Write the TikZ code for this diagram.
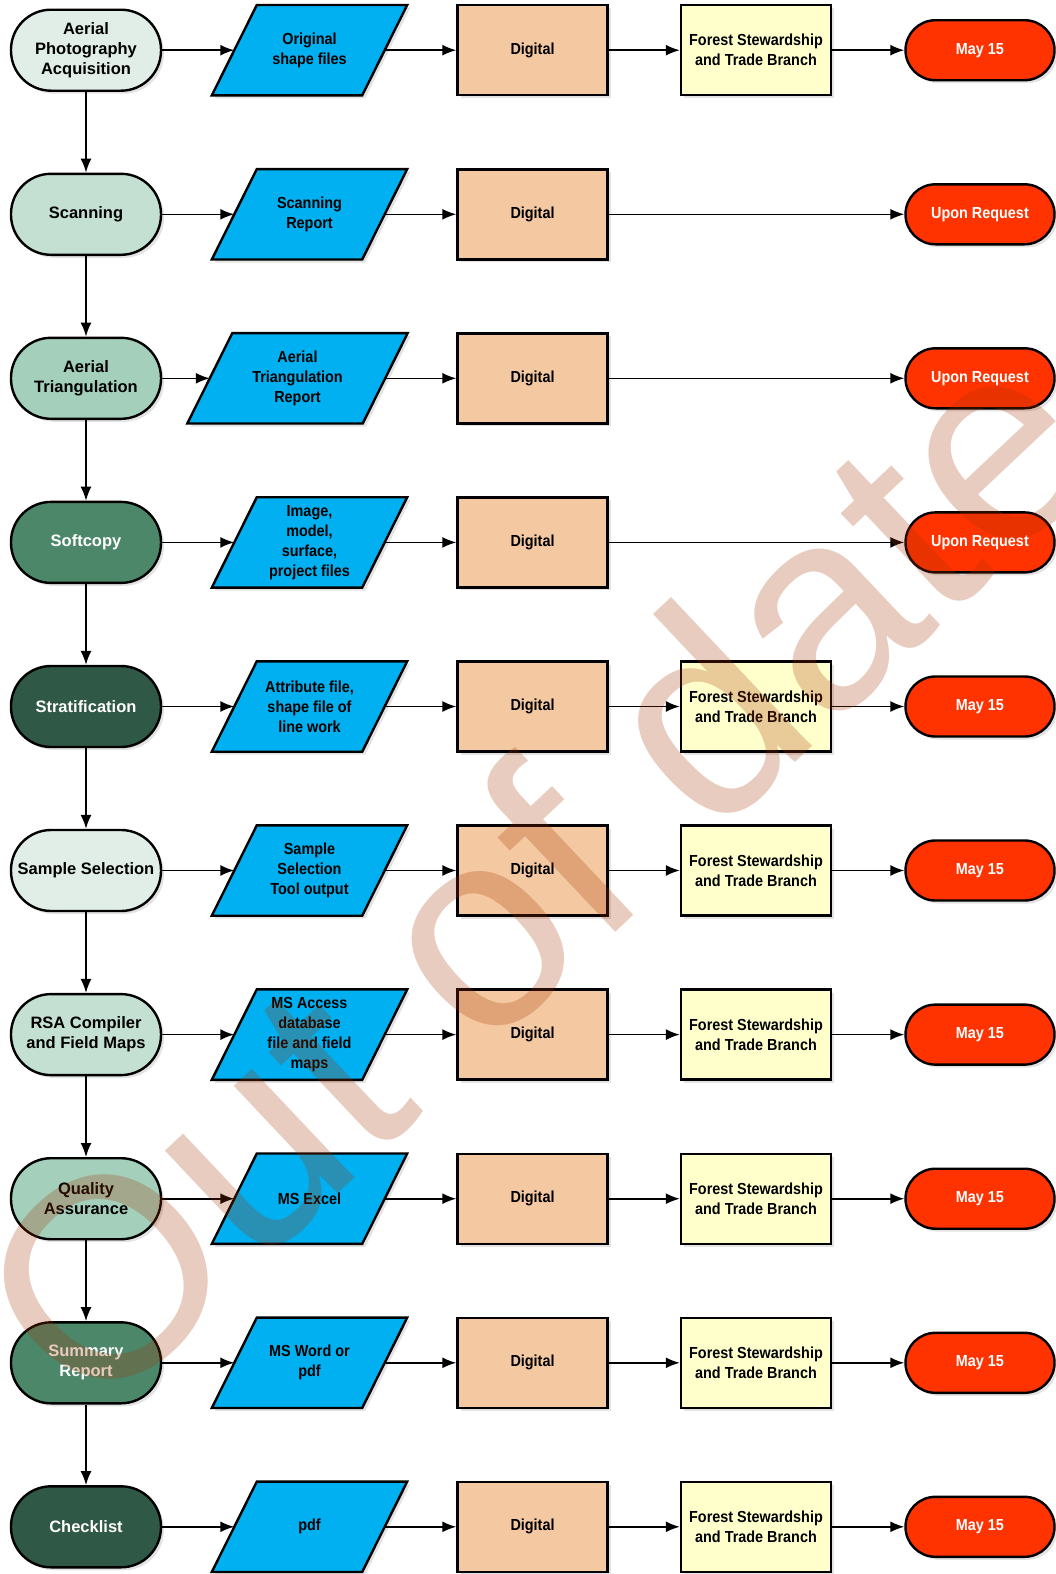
\documentclass[tikz,border=0pt]{standalone}
\usepackage{fontspec}
\setmainfont{Liberation Sans}
\newfontfamily\condfont{Liberation Sans}[FakeStretch=0.9]
\usetikzlibrary{shadows,arrows.meta,backgrounds}
\definecolor{gA}{RGB}{225,238,231}
\definecolor{gB}{RGB}{196,224,210}
\definecolor{gC}{RGB}{163,207,187}
\definecolor{gD}{RGB}{76,135,106}
\definecolor{gE}{RGB}{48,88,70}
\definecolor{cyanfill}{RGB}{0,176,240}
\definecolor{digfill}{RGB}{244,201,161}
\definecolor{forfill}{RGB}{255,255,204}
\definecolor{redfill}{RGB}{255,51,0}
\definecolor{wmcol}{RGB}{165,50,0}
\tikzset{
  shad/.style={drop shadow={shadow xshift=3pt, shadow yshift=-3pt, opacity=0.22}},
  base/.style={draw=black, line width=2.4pt, align=center, shad},
  term/.style={base, rectangle, rounded corners=40pt, minimum width=150pt,
    minimum height=81pt, inner sep=1pt,
    font=\fontsize{16.5}{20}\selectfont\bfseries},
  darkterm/.style={term, text=white},
  para/.style={rectangle, draw=none, align=center, minimum width=150pt,
    minimum height=90pt, inner sep=1pt,
    font=\condfont\fontsize{16}{20}\selectfont\bfseries},
  paraframe/.style={draw=black, line width=2.4pt, fill=cyanfill, shad},
  digi/.style={base, rectangle, minimum width=150pt, minimum height=90pt,
    fill=digfill, inner sep=1pt, font=\condfont\fontsize{16}{20}\selectfont\bfseries},
  branch/.style={base, rectangle, minimum width=150pt, minimum height=90pt,
    fill=forfill, inner sep=1pt, font=\condfont\fontsize{16}{20}\selectfont\bfseries},
  due/.style={base, rectangle, rounded corners=30pt, minimum width=149pt,
    minimum height=60pt, fill=redfill, text=white, inner sep=1pt,
    font=\condfont\fontsize{16}{20}\selectfont\bfseries},
  conn/.style={line width=1.6pt, -{Latex[length=14pt,width=11pt]}},
  wm/.style={rotate=43.3, text=wmcol, text opacity=0.25, inner sep=0pt,
    font=\fontsize{283}{283}\selectfont}
}
\begin{document}
\begin{tikzpicture}[x=1pt,y=-1pt]
\useasboundingbox (0,0) rectangle (1056,1574);
% row 1
\node[term, fill=gA] (t1) at (86,50.2) {Aerial\\Photography\\Acquisition};
\node[para] (p1) at (309.5,50.2) {Original\\shape files};
\node[digi] (d1) at (532.5,50.2) {Digital};
\node[branch] (f1) at (756,50.2) {Forest Stewardship\\and Trade Branch};
\node[due] (r1) at (980,50.2) {May 15};
% row 2
\node[term, fill=gB] (t2) at (86,214.3) {Scanning};
\node[para] (p2) at (309.5,214.3) {Scanning\\Report};
\node[digi] (d2) at (532.5,214.3) {Digital};
\node[due] (r2) at (980,214.3) {Upon Request};
% row 3
\node[term, fill=gC] (t3) at (86,378.3) {Aerial\\Triangulation};
\node[para, minimum width=175pt] (p3) at (297.5,378.3) {Aerial\\Triangulation\\Report};
\node[digi] (d3) at (532.5,378.3) {Digital};
\node[due] (r3) at (980,378.3) {Upon Request};
% row 4
\node[darkterm, fill=gD] (t4) at (86,542.4) {Softcopy};
\node[para] (p4) at (309.5,542.4) {Image,\\model,\\surface,\\project files};
\node[digi] (d4) at (532.5,542.4) {Digital};
\node[due] (r4) at (980,542.4) {Upon Request};
% row 5
\node[darkterm, fill=gE] (t5) at (86,706.5) {Stratification};
\node[para] (p5) at (309.5,706.5) {Attribute file,\\shape file of\\line work};
\node[digi] (d5) at (532.5,706.5) {Digital};
\node[branch] (f5) at (756,706.5) {Forest Stewardship\\and Trade Branch};
\node[due] (r5) at (980,706.5) {May 15};
% row 6
\node[term, fill=gA] (t6) at (86,870.5) {Sample Selection};
\node[para] (p6) at (309.5,870.5) {Sample\\Selection\\Tool output};
\node[digi] (d6) at (532.5,870.5) {Digital};
\node[branch] (f6) at (756,870.5) {Forest Stewardship\\and Trade Branch};
\node[due] (r6) at (980,870.5) {May 15};
% row 7
\node[term, fill=gB] (t7) at (86,1034.6) {RSA Compiler\\and Field Maps};
\node[para] (p7) at (309.5,1034.6) {MS Access\\database\\file and field\\maps};
\node[digi] (d7) at (532.5,1034.6) {Digital};
\node[branch] (f7) at (756,1034.6) {Forest Stewardship\\and Trade Branch};
\node[due] (r7) at (980,1034.6) {May 15};
% row 8
\node[term, fill=gC] (t8) at (86,1198.7) {Quality\\Assurance};
\node[para] (p8) at (309.5,1198.7) {MS Excel};
\node[digi] (d8) at (532.5,1198.7) {Digital};
\node[branch] (f8) at (756,1198.7) {Forest Stewardship\\and Trade Branch};
\node[due] (r8) at (980,1198.7) {May 15};
% row 9
\node[darkterm, fill=gD] (t9) at (86,1362.8) {Summary\\Report};
\node[para] (p9) at (309.5,1362.8) {MS Word or\\pdf};
\node[digi] (d9) at (532.5,1362.8) {Digital};
\node[branch] (f9) at (756,1362.8) {Forest Stewardship\\and Trade Branch};
\node[due] (r9) at (980,1362.8) {May 15};
% row 10
\node[darkterm, fill=gE] (t10) at (86,1526.8) {Checklist};
\node[para] (p10) at (309.5,1526.8) {pdf};
\node[digi] (d10) at (532.5,1526.8) {Digital};
\node[branch] (f10) at (756,1526.8) {Forest Stewardship\\and Trade Branch};
\node[due] (r10) at (980,1526.8) {May 15};
% parallelogram frames behind the data nodes
\begin{scope}[on background layer]
\foreach \n in {p1,p2,p3,p4,p5,p6,p7,p8,p9,p10}
  \draw[paraframe] ([xshift=-22.5pt]\n.south west) -- ([xshift=-22.5pt]\n.south east)
    -- ([xshift=22.5pt]\n.north east) -- ([xshift=22.5pt]\n.north west) -- cycle;
\end{scope}
% vertical connectors
\foreach \a/\b in {t1/t2,t2/t3,t3/t4,t4/t5,t5/t6,t6/t7,t7/t8,t8/t9,t9/t10}
  \draw[conn] (\a) -- (\b);
% horizontal connectors
\foreach \i in {1,...,10} {
  \draw[conn] (t\i) -- (p\i);
  \draw[conn] (p\i) -- (d\i);
}
\foreach \i in {1,5,6,7,8,9,10} {
  \draw[conn] (d\i) -- (f\i);
  \draw[conn] (f\i) -- (r\i);
}
\foreach \i in {2,3,4}
  \draw[conn] (d\i) -- (r\i);
% watermark
\node[wm] (wm) at (534,870) {Out of date};
\end{tikzpicture}
\end{document}
